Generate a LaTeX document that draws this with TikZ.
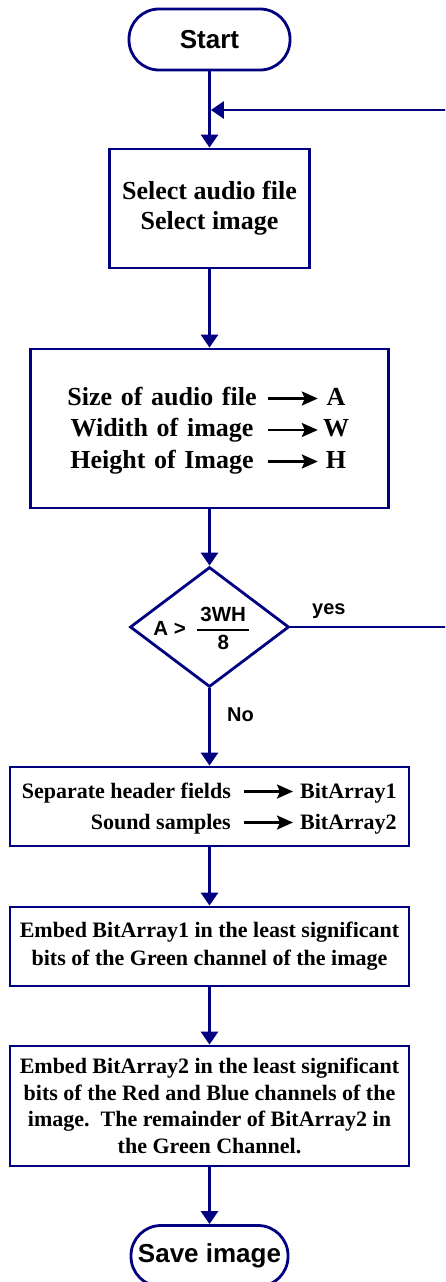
\documentclass[tikz,border=0pt]{standalone}
\usepackage{fontspec}
\usepackage{amsmath}
\setmainfont{Liberation Serif}
\newfontfamily\arialf{Liberation Sans}
\usetikzlibrary{shapes.geometric,arrows.meta}
\definecolor{navy}{RGB}{0,0,128}
\begin{document}
\begin{tikzpicture}[x=1pt,y=-1pt,
  flow/.style={draw=navy,line width=2.8pt,-{Triangle[length=13pt,width=17pt]}},
  iarrow/.style={draw=black,line width=2.4pt,-{Stealth[length=16pt,width=14pt,inset=3pt]}},
  term/.style={draw=navy,line width=2.8pt,rounded corners=30pt,minimum height=61pt,
    inner sep=0pt,font=\arialf\bfseries\fontsize{26}{30}\selectfont},
  proc/.style={draw=navy,line width=2.8pt,inner sep=0pt,align=center},
  decision/.style={diamond,draw=navy,line width=2.8pt,minimum width=159pt,
    minimum height=120pt,inner sep=0pt},
  dtext/.style={inner sep=0pt,font=\arialf\bfseries\fontsize{20.5}{24}\selectfont},
  lbl/.style={inner sep=0pt,anchor=base west,font=\arialf\bfseries\fontsize{20}{24}\selectfont},
  bigl/.style={font=\bfseries\fontsize{26}{31}\selectfont,text width=212pt,align=center,
    inner sep=0pt,text height=19pt,text depth=6pt,anchor=base},
  bigr/.style={font=\bfseries\fontsize{26}{31}\selectfont,text width=36pt,align=center,
    inner sep=0pt,text height=19pt,text depth=6pt,anchor=base},
  smalll/.style={font=\bfseries\fontsize{22}{26}\selectfont,inner xsep=13pt,inner ysep=0pt,
    text height=17pt,text depth=4pt,anchor=base east},
  smallr/.style={font=\bfseries\fontsize{22}{26}\selectfont,inner xsep=7pt,inner ysep=0pt,
    text height=17pt,text depth=4pt,anchor=base west}
]
\useasboundingbox (0,0) rectangle (445,1282);
\clip (0,0) rectangle (445,1282);

% terminals
\node[term,minimum width=161pt] (start) at (209.5,39.5) {Start};
\node[term,minimum width=157pt] (save) at (209.5,1256) {Save image};

% process boxes
\node[proc,minimum width=200pt,minimum height=119pt,
  font=\bfseries\fontsize{26}{30}\selectfont] (box1) at (209.5,208.5)
  {Select audio file\\Select image};

\node[proc,minimum width=358pt,minimum height=159pt] (box2) at (209.5,428.5) {};
\node[bigl] (sz) at (162,405) {Size of audio file};
\node[bigr] (va) at (336,405) {A};
\node[bigl] (wd) at (162,436.5) {Widith of image};
\node[bigr] (vw) at (336,436.5) {W};
\node[bigl] (ht) at (162,468) {Height of Image};
\node[bigr] (vh) at (336,468) {H};
\draw[iarrow] (sz.east) -- (va.west);
\draw[iarrow] (wd.east) -- (vw.west);
\draw[iarrow] (ht.east) -- (vh.west);

% decision
\node[decision] (dec) at (209.5,627) {};
\node[dtext] (dect) at (202,628.5)
  {A >\hspace{10pt}${\genfrac{}{}{1.5pt}{0}{\text{\,3WH\,}}{\text{8}}}$};
\node[lbl] (yes) at (312,614) {yes};
\node[lbl] (no) at (227,721) {No};

\node[proc,minimum width=399pt,minimum height=79pt] (box3) at (209.5,806.5) {};
\node[smalll] (hf) at (244,798) {Separate header fields};
\node[smallr] (b1) at (293,798) {BitArray1};
\node[smalll] (ss) at (244,829) {Sound samples};
\node[smallr] (b2) at (293,829) {BitArray2};
\draw[iarrow] (hf.east) -- (b1.west);
\draw[iarrow] (ss.east) -- (b2.west);

\node[proc,minimum width=399pt,minimum height=79pt,
  font=\bfseries\fontsize{22}{28}\selectfont] (box4) at (209.5,946.5)
  {Embed BitArray1 in the least significant\\bits of the Green channel of the image};

\node[proc,minimum width=399pt,minimum height=120pt,
  font=\bfseries\fontsize{22}{26.5}\selectfont] (box5) at (209.5,1106)
  {Embed BitArray2 in the least significant\\bits of the Red and Blue channels of the\\
   image.\ \ The remainder of BitArray2 in\\the Green Channel.};

% connectors
\coordinate (join) at (209.5,110);
\coordinate (loopA) at (470,627);
\draw[flow] (start) -- (box1);
\draw[flow] (box1) -- (box2);
\draw[flow] (box2) -- (dec);
\draw[flow] (dec) -- (box3);
\draw[flow] (box3) -- (box4);
\draw[flow] (box4) -- (box5);
\draw[flow] (box5) -- (save);
\draw[flow,shorten >=1.4pt] (dec.east) -- (loopA) |- (join);
\end{tikzpicture}
\end{document}
